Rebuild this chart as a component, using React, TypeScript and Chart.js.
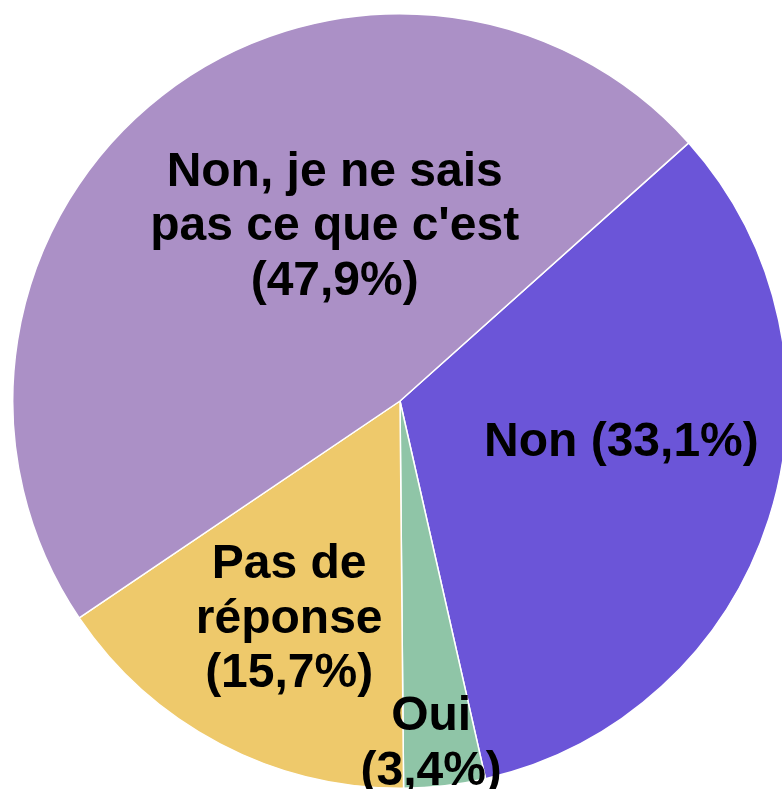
import React, { useEffect, useRef } from "react";
import { Chart, registerables } from "chart.js";

Chart.register(...registerables);

const categories: string[] = ["Non", "Oui", "Pas de réponse", "Non, je ne sais pas ce que c'est"];
const values: number[] = [33.1, 3.4, 15.7, 47.9];
const colors: string[] = ["#6b55d8", "#8fc5a7", "#eec96b", "#ab90c6"];
const labelLines: string[][] = [
  ["Non (33,1%)"],
  ["Oui", "(3,4%)"],
  ["Pas de", "réponse", "(15,7%)"],
  ["Non, je ne sais", "pas ce que c'est", "(47,9%)"],
];
// placement of each label: radial fraction and angular shift (degrees) from the slice mid-angle
const labelPlacement = [
  { frac: 0.58, shift: -8 },
  { frac: 0.88, shift: 1.4 },
  { frac: 0.624, shift: -0.4 },
  { frac: 0.49, shift: 17.8 },
];

const FONT_SIZE = 48;
const LINE_H = 54.5;

const labelPlugin = {
  id: "sliceLabels",
  afterDatasetsDraw(chart: any) {
    const ctx = chart.ctx;
    const meta = chart.getDatasetMeta(0);
    ctx.save();
    ctx.fillStyle = "#000";
    ctx.font = `bold ${FONT_SIZE}px "Liberation Sans", Arial, sans-serif`;
    ctx.textAlign = "center";
    ctx.textBaseline = "alphabetic";
    meta.data.forEach((arc: any, i: number) => {
      const p = arc.getProps(["x", "y", "startAngle", "endAngle", "outerRadius"], true);
      const mid = (p.startAngle + p.endAngle) / 2 + (labelPlacement[i].shift * Math.PI) / 180;
      const r = p.outerRadius * labelPlacement[i].frac;
      const cx = p.x + Math.cos(mid) * r;
      const cy = p.y + Math.sin(mid) * r;
      const lines = labelLines[i];
      const capHalf = (FONT_SIZE * 0.716) / 2;
      lines.forEach((ln, j) => {
        const y = cy + (j - (lines.length - 1) / 2) * LINE_H + capHalf;
        ctx.fillText(ln, cx, y);
      });
    });
    ctx.restore();
  },
};

export default function App() {
  const ref = useRef<HTMLCanvasElement | null>(null);
  useEffect(() => {
    if (!ref.current) return;
    const chart = new Chart(ref.current, {
      type: "pie",
      data: {
        labels: categories,
        datasets: [
          {
            data: values,
            backgroundColor: colors,
            borderColor: "#ffffff",
            borderWidth: 1.5,
            hoverOffset: 0,
            offset: 0,
          },
        ],
      },
      options: {
        responsive: false,
        maintainAspectRatio: false,
        animation: false,
        events: [],
        rotation: 48.2,
        layout: { padding: 0 },
        plugins: {
          legend: { display: false },
          tooltip: { enabled: false },
        },
      },
      plugins: [labelPlugin],
    });
    return () => chart.destroy();
  }, []);
  return (
    <div
      style={{
        position: "fixed",
        left: 0,
        top: 0,
        width: 782,
        height: 791,
        overflow: "hidden",
        background: "#fff",
      }}
    >
      <canvas
        ref={ref}
        width={776}
        height={776}
        style={{ position: "absolute", left: 12, top: 13, width: 776, height: 776 }}
      />
    </div>
  );
}
